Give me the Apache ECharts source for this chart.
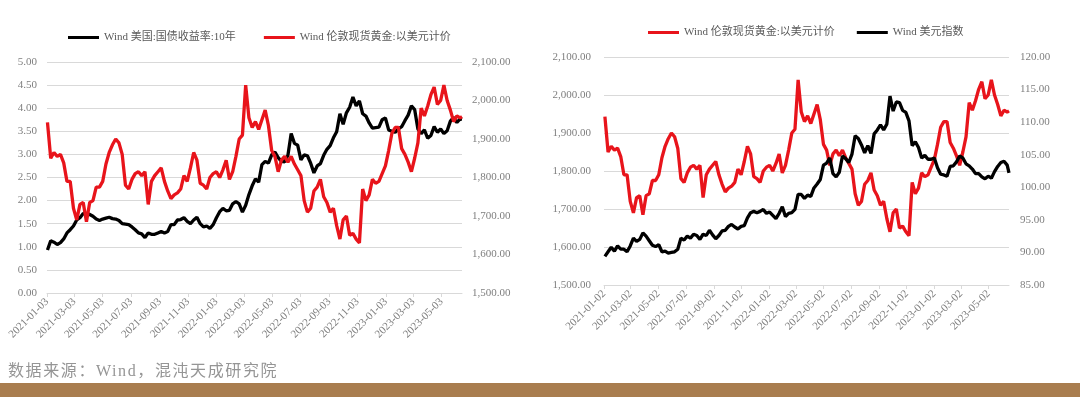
<!DOCTYPE html>
<html>
<head>
<meta charset="utf-8">
<script src="https://cdn.jsdelivr.net/npm/echarts@6/dist/echarts.min.js"></script>
<style>
  html, body { margin: 0; padding: 0; background: #fff; }
  #wrap { position: relative; width: 1080px; height: 397px; overflow: hidden; }
  #chart { position: absolute; left: 0; top: 0; width: 1080px; height: 397px; }
  #source {
    position: absolute; left: 8px; top: 361px;
    font-family: "Liberation Serif", "Noto Sans CJK SC", serif;
    font-size: 16px; letter-spacing: 1.6px; color: #959595; line-height: 20px;
  }
  #band { position: absolute; left: 0; top: 383px; width: 1080px; height: 14px; background: #a97d4f; }
</style>
</head>
<body>
<div id="wrap">
  <div id="chart"></div>
  <div id="source">数据来源：Wind，混沌天成研究院</div>
  <div id="band"></div>
</div>
<script>
// weekly observation dates
const weeks = [
  '2021-01-04','2021-01-11','2021-01-18','2021-01-25','2021-02-01','2021-02-08','2021-02-15','2021-02-22',
  '2021-03-01','2021-03-08','2021-03-15','2021-03-22','2021-03-29','2021-04-05','2021-04-12','2021-04-19',
  '2021-04-26','2021-05-03','2021-05-10','2021-05-17','2021-05-24','2021-05-31','2021-06-07','2021-06-14',
  '2021-06-21','2021-06-28','2021-07-05','2021-07-12','2021-07-19','2021-07-26','2021-08-02','2021-08-09',
  '2021-08-16','2021-08-23','2021-08-30','2021-09-06','2021-09-13','2021-09-20','2021-09-27','2021-10-04',
  '2021-10-11','2021-10-18','2021-10-25','2021-11-01','2021-11-08','2021-11-15','2021-11-22','2021-11-29',
  '2021-12-06','2021-12-13','2021-12-20','2021-12-27',
  '2022-01-03','2022-01-10','2022-01-17','2022-01-24','2022-01-31','2022-02-07','2022-02-14','2022-02-21',
  '2022-02-28','2022-03-07','2022-03-14','2022-03-21','2022-03-28','2022-04-04','2022-04-11','2022-04-18',
  '2022-04-25','2022-05-02','2022-05-09','2022-05-16','2022-05-23','2022-05-30','2022-06-06','2022-06-13',
  '2022-06-20','2022-06-27','2022-07-04','2022-07-11','2022-07-18','2022-07-25','2022-08-01','2022-08-08',
  '2022-08-15','2022-08-22','2022-08-29','2022-09-05','2022-09-12','2022-09-19','2022-09-26','2022-10-03',
  '2022-10-10','2022-10-17','2022-10-24','2022-10-31','2022-11-07','2022-11-14','2022-11-21','2022-11-28',
  '2022-12-05','2022-12-12','2022-12-19','2022-12-26',
  '2023-01-02','2023-01-09','2023-01-16','2023-01-23','2023-01-30','2023-02-06','2023-02-13','2023-02-20',
  '2023-02-27','2023-03-06','2023-03-13','2023-03-20','2023-03-27','2023-04-03','2023-04-10','2023-04-17',
  '2023-04-24','2023-05-01','2023-05-08','2023-05-15','2023-05-22','2023-05-29','2023-06-05','2023-06-12',
  '2023-06-16'
];

// London spot gold, USD
const gold = [
  1943,1850,1865,1855,1860,1838,1790,1790,1720,1690,1730,1735,1685,1735,1740,1775,
  1775,1790,1835,1865,1885,1900,1890,1860,1780,1770,1795,1810,1815,1805,1815,1730,
  1790,1805,1815,1825,1790,1765,1745,1755,1760,1770,1805,1790,1825,1865,1845,1785,
  1780,1770,1800,1810,
  1815,1800,1820,1845,1795,1815,1855,1900,1910,2040,1955,1930,1945,1925,1950,1975,
  1935,1870,1855,1815,1845,1855,1840,1855,1835,1820,1805,1740,1710,1720,1765,1775,
  1795,1750,1735,1710,1720,1675,1640,1690,1700,1650,1655,1640,1630,1770,1740,1755,
  1795,1785,1790,1810,
  1830,1870,1915,1930,1930,1875,1860,1840,1815,1850,1890,1980,1960,1985,2015,2035,
  1990,2000,2040,2000,1975,1945,1960,1955,1958
];

// US treasury 10Y yield, %
const ust10y = [
  0.93,1.13,1.10,1.05,1.09,1.17,1.30,1.37,1.45,1.58,1.63,1.72,1.72,1.70,1.66,1.60,
  1.57,1.60,1.62,1.64,1.61,1.60,1.57,1.50,1.49,1.48,1.43,1.37,1.30,1.28,1.20,1.30,
  1.27,1.27,1.30,1.33,1.30,1.33,1.48,1.48,1.58,1.59,1.63,1.55,1.50,1.58,1.64,1.50,
  1.43,1.45,1.40,1.48,
  1.63,1.76,1.83,1.78,1.79,1.93,1.98,1.93,1.75,1.90,2.13,2.32,2.47,2.40,2.78,2.85,
  2.81,2.99,3.05,2.93,2.85,2.84,2.98,3.45,3.24,3.20,2.88,2.99,2.97,2.81,2.60,2.75,
  2.80,2.98,3.11,3.19,3.36,3.49,3.88,3.65,3.90,4.02,4.24,4.05,4.16,3.88,3.83,3.68,
  3.57,3.58,3.59,3.75,
  3.79,3.53,3.50,3.48,3.55,3.60,3.73,3.85,4.05,3.97,3.55,3.45,3.53,3.35,3.41,3.60,
  3.48,3.55,3.45,3.51,3.72,3.80,3.69,3.77,3.76
];

// US dollar index
const dxy = [
  89.4,90.1,90.8,90.2,91.0,90.5,90.5,90.1,91.0,92.2,91.7,92.0,93.0,92.5,91.8,91.1,
  90.9,91.2,90.1,90.2,89.9,90.0,90.1,90.5,92.2,91.9,92.5,92.2,92.8,92.6,92.0,92.8,
  92.6,93.4,92.7,92.1,92.6,93.3,93.4,94.0,94.3,93.9,93.6,94.0,94.1,95.3,96.1,96.3,
  96.1,96.3,96.6,96.0,
  96.2,95.7,95.2,96.0,97.0,95.5,96.0,96.1,96.6,98.9,98.9,98.3,98.8,98.6,99.9,100.5,
  101.2,103.4,103.7,104.5,102.1,101.6,102.3,104.8,104.4,103.8,105.1,107.9,107.5,106.5,105.3,106.4,
  105.2,108.2,108.8,109.6,108.8,109.7,114.0,111.7,113.1,113.0,111.8,111.5,110.2,106.4,107.0,106.1,
  104.5,104.9,104.3,104.3,
  104.5,103.0,102.0,101.9,101.7,103.2,103.3,103.9,104.8,104.5,103.6,103.3,102.8,102.1,102.1,101.6,
  101.3,101.7,101.4,102.4,103.2,103.8,104.0,103.4,102.2
];

const leftTicks = ['2021-01-03','2021-03-03','2021-05-03','2021-07-03','2021-09-03','2021-11-03','2022-01-03',
  '2022-03-03','2022-05-03','2022-07-03','2022-09-03','2022-11-03','2023-01-03','2023-03-03','2023-05-03'];
const rightTicks = ['2021-01-02','2021-03-02','2021-05-02','2021-07-02','2021-09-02','2021-11-02','2022-01-02',
  '2022-03-02','2022-05-02','2022-07-02','2022-09-02','2022-11-02','2023-01-02','2023-03-02','2023-05-02'];

const NAME_UST = 'Wind 美国:国债收益率:10年';
const NAME_GOLD = 'Wind 伦敦现货黄金:以美元计价';
const NAME_DXY = 'Wind 美元指数';

const RED = '#e8141b';
const GRID_LINE = '#d9d9d9';
const LABEL = '#7f7f7f';
const FONT = '"Liberation Serif", "Noto Sans CJK SC", serif';
const LINE_W = 3.3;

// dates become day numbers on a plain value axis
function ts(s) {
  const p = s.split('-');
  return Date.UTC(+p[0], +p[1] - 1, +p[2]) / 86400000;
}
function pad(n) { return n < 10 ? '0' + n : '' + n; }
function fmtDate(v) {
  const d = new Date(Math.round(v) * 86400000);
  return d.getUTCFullYear() + '-' + pad(d.getUTCMonth() + 1) + '-' + pad(d.getUTCDate());
}
function pairs(vals) { return weeks.map((w, i) => [ts(w), vals[i]]); }
function money(v) { return v.toLocaleString('en-US', { minimumFractionDigits: 2, maximumFractionDigits: 2 }); }

const axisLabel = { color: LABEL, fontFamily: FONT, fontSize: 11 };

function xAxisOf(gridIndex, ticks) {
  const vals = ticks.map(ts);
  return {
    type: 'value', gridIndex,
    min: vals[0], max: ts(weeks[weeks.length - 1]),
    axisLine: { onZero: false, lineStyle: { color: GRID_LINE } },
    axisTick: { show: true, customValues: vals, length: 4, lineStyle: { color: GRID_LINE } },
    axisLabel: { ...axisLabel, customValues: vals, rotate: 45, margin: 7, formatter: fmtDate, hideOverlap: false },
    splitLine: { show: false }
  };
}

const chart = echarts.init(document.getElementById('chart'));
chart.setOption({
  animation: false,
  legend: [
    {
      left: 63, top: 27, itemWidth: 31, itemHeight: 3, itemGap: 28, icon: 'rect',
      textStyle: { color: '#595959', fontFamily: FONT, fontSize: 11 },
      data: [NAME_UST, NAME_GOLD]
    },
    {
      left: 643, top: 22, itemWidth: 31, itemHeight: 3, itemGap: 22, icon: 'rect',
      textStyle: { color: '#595959', fontFamily: FONT, fontSize: 11 },
      data: [NAME_GOLD, NAME_DXY]
    }
  ],
  grid: [
    { left: 47, top: 62, width: 415, height: 231 },
    { left: 604, top: 57, width: 405, height: 228 }
  ],
  xAxis: [xAxisOf(0, leftTicks), xAxisOf(1, rightTicks)],
  yAxis: [
    {
      type: 'value', gridIndex: 0, min: 0, max: 5, interval: 0.5,
      axisLine: { show: false }, axisTick: { show: false },
      axisLabel: { ...axisLabel, margin: 10, formatter: v => v.toFixed(2) },
      splitLine: { lineStyle: { color: GRID_LINE } }
    },
    {
      type: 'value', gridIndex: 0, position: 'right', min: 1500, max: 2100, interval: 100,
      axisLine: { show: false }, axisTick: { show: false },
      axisLabel: { ...axisLabel, margin: 10, formatter: money },
      splitLine: { show: false }
    },
    {
      type: 'value', gridIndex: 1, min: 1500, max: 2100, interval: 100,
      axisLine: { show: false }, axisTick: { show: false },
      axisLabel: { ...axisLabel, margin: 13, formatter: money },
      splitLine: { lineStyle: { color: GRID_LINE } }
    },
    {
      type: 'value', gridIndex: 1, position: 'right', min: 85, max: 120, interval: 5,
      axisLine: { show: false }, axisTick: { show: false },
      axisLabel: { ...axisLabel, margin: 11, formatter: v => v.toFixed(2) },
      splitLine: { show: false }
    }
  ],
  series: [
    {
      name: NAME_UST, type: 'line', xAxisIndex: 0, yAxisIndex: 0, data: pairs(ust10y),
      symbol: 'none', lineStyle: { color: '#000', width: LINE_W }, itemStyle: { color: '#000' }
    },
    {
      name: NAME_GOLD, type: 'line', xAxisIndex: 0, yAxisIndex: 1, data: pairs(gold),
      symbol: 'none', lineStyle: { color: RED, width: LINE_W }, itemStyle: { color: RED }
    },
    {
      name: NAME_GOLD, type: 'line', xAxisIndex: 1, yAxisIndex: 2, data: pairs(gold),
      symbol: 'none', lineStyle: { color: RED, width: LINE_W }, itemStyle: { color: RED }
    },
    {
      name: NAME_DXY, type: 'line', xAxisIndex: 1, yAxisIndex: 3, data: pairs(dxy),
      symbol: 'none', lineStyle: { color: '#000', width: LINE_W }, itemStyle: { color: '#000' }
    }
  ]
});
</script>
</body>
</html>
